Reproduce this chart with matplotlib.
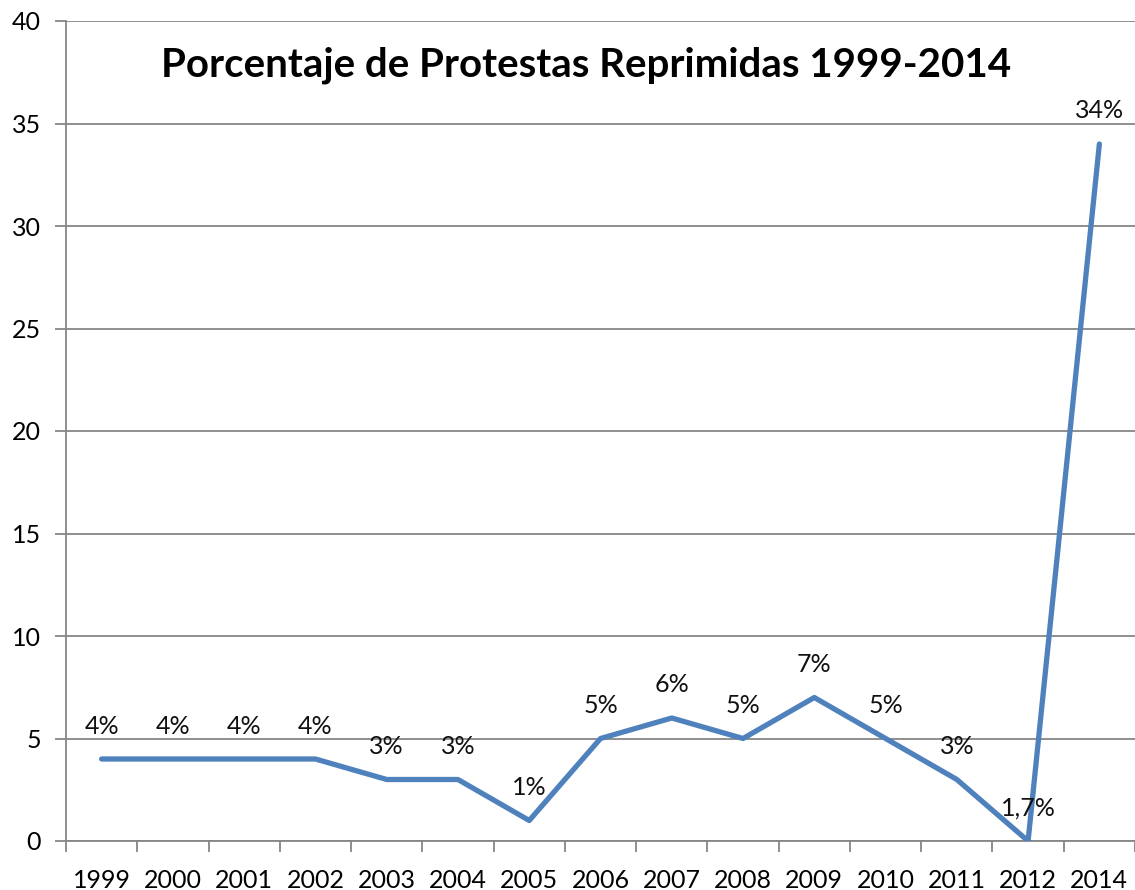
import matplotlib.pyplot as plt
import numpy as np

years = ["1999", "2000", "2001", "2002", "2003", "2004", "2005", "2006",
         "2007", "2008", "2009", "2010", "2011", "2012", "2014"]
values = [4, 4, 4, 4, 3, 3, 1, 5, 6, 5, 7, 5, 3, 0, 34]
labels = ["4%", "4%", "4%", "4%", "3%", "3%", "1%", "5%",
          "6%", "5%", "7%", "5%", "3%", "1,7%", "34%"]

plt.rcParams["font.family"] = ["Lato", "DejaVu Sans"]
GRAY = "#868686"

fig = plt.figure(figsize=(11.35, 8.9), dpi=100)
ax = fig.add_axes([66 / 1135, 1 - 841 / 890, 1 - 66 / 1135, (841 - 21) / 890])

x = np.arange(len(years))
ax.plot(x, values, color="#4F81BD", linewidth=3.8, solid_capstyle="round",
        solid_joinstyle="round", zorder=3)

for xi, yi, lab in zip(x, values, labels):
    ax.annotate(lab, (xi, yi), xytext=(0, 33), textcoords="offset pixels",
                ha="center", va="center", fontsize=18, color="#111111")

ax.set_xlim(-0.5, len(years) - 0.5)
ax.set_ylim(0, 40)
ax.set_yticks(range(0, 41, 5))
ax.set_xticks(x)
ax.set_xticklabels(years)
ax.set_xticks(np.arange(-0.5, len(years)), minor=True)
ax.tick_params(axis="x", which="major", length=0, pad=20, labelsize=18)
ax.tick_params(axis="x", which="minor", length=8, color=GRAY, width=1.3)
ax.tick_params(axis="y", length=8, color=GRAY, width=1.3, pad=10, labelsize=18)

ax.grid(axis="y", color=GRAY, linewidth=1.3)
ax.set_axisbelow(True)
for side in ["top", "right"]:
    ax.spines[side].set_visible(False)
for side in ["left", "bottom"]:
    ax.spines[side].set_color(GRAY)
    ax.spines[side].set_linewidth(1.3)

fig.text(586 / 1135, 1 - 65 / 890, "Porcentaje de Protestas Reprimidas 1999-2014",
         ha="center", va="center", fontsize=29, fontweight="bold")

fig.savefig("out.png", dpi=100)
